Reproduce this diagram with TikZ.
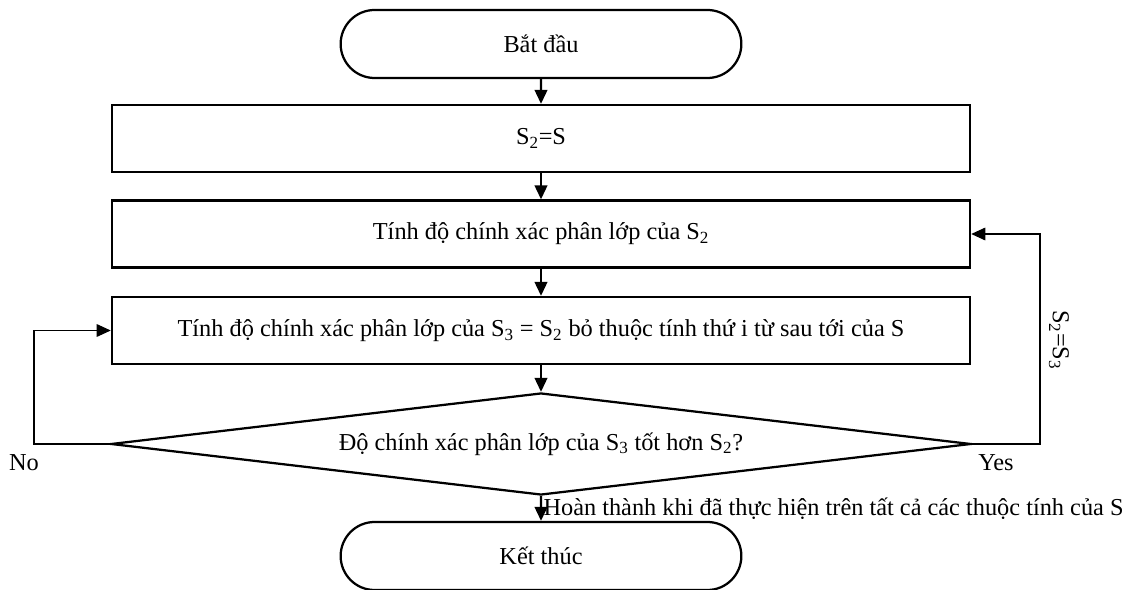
\documentclass[tikz,border=0pt]{standalone}
\usepackage{fontspec}
\setmainfont{Liberation Serif}
\usetikzlibrary{arrows.meta,shapes.misc,shapes.geometric}

\begin{document}
\begin{tikzpicture}[x=0.025cm,y=-0.025cm,
    every node/.style={font=\fontsize{17.3}{20}\selectfont},
    term/.style={draw,line width=1.6pt,rounded rectangle,minimum width=10.25cm,minimum height=1.7cm},
    box/.style={draw,line width=1.6pt,minimum width=21.45cm,minimum height=1.675cm},
    test/.style={draw,line width=1.6pt,diamond,inner sep=0pt,aspect=8.43,minimum width=21.5cm,minimum height=2.55cm},
    flow/.style={line width=1.6pt,-{Triangle[length=10pt,width=9pt]}},
    back/.style={line width=0.8pt,-{Triangle[length=10pt,width=9pt]}}]
    \useasboundingbox (0,0) rectangle (1134,590);
    \node[term] (start) at (541,44) {Bắt đầu};
    \node[box] (init) at (541,138.5) {S\textsubscript{2}=S};
    \node[box] (acc) at (541,234) {Tính độ chính xác phân lớp của S\textsubscript{2}};
    \node[box] (drop) at (541,330.5) {Tính độ chính xác phân lớp của S\textsubscript{3} = S\textsubscript{2} bỏ thuộc tính thứ i từ sau tới của S};
    \node[test] (better) at (541,444) {Độ chính xác phân lớp của S\textsubscript{3} tốt hơn S\textsubscript{2}?};
    \node[term] (stop) at (541,556) {Kết thúc};
    \draw[flow] (start) -- (init);
    \draw[flow] (init) -- (acc);
    \draw[flow] (acc) -- (drop);
    \draw[flow] (drop) -- (better);
    \draw[flow] (better) -- (stop) node[midway,right,inner sep=1pt] {Hoàn thành khi đã thực hiện trên tất cả các thuộc tính của S};
    % loops back
    \coordinate (noturn) at (34,444);
    \coordinate (yesturn) at (1040,444);
    \draw[back] (better.west) -- (noturn) |- (drop.west);
    \draw[back] (better.east) -- (yesturn) |- (acc.east);
    \node (no) at (24,463) {No};
    \node (yes) at (996,463) {Yes};
    \node[rotate=-90] (swap) at (1059,340) {S\textsubscript{2}=S\textsubscript{3}};
\end{tikzpicture}
\end{document}
